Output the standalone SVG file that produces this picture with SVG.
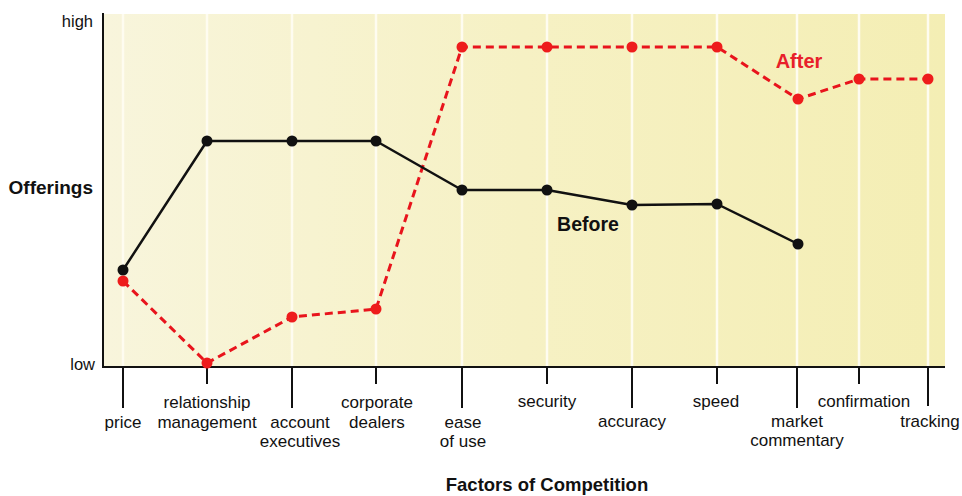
<svg xmlns="http://www.w3.org/2000/svg" width="962" height="496" viewBox="0 0 962 496">
<defs>
<linearGradient id="bg" x1="0" y1="0" x2="1" y2="0">
<stop offset="0" stop-color="#f8f5dc"/>
<stop offset="0.5" stop-color="#f6f1c4"/>
<stop offset="1" stop-color="#f4eeb4"/>
</linearGradient>
<style>
.lbl{font-family:"Liberation Sans",Arial,sans-serif;font-size:17px;fill:#111;text-anchor:middle}
.ax{font-family:"Liberation Sans",Arial,sans-serif;font-size:16.5px;fill:#111}
.bold{font-family:"Liberation Sans",Arial,sans-serif;font-weight:bold;fill:#111}
.grid{stroke:#fefcf0;stroke-width:2.5}
.tick{stroke:#111;stroke-width:2}
.before{fill:none;stroke:#111;stroke-width:2.5;stroke-linejoin:round}
.after{fill:none;stroke:#e8141c;stroke-width:3;stroke-dasharray:8 5}
.bd{fill:#111}
.rd{fill:#ee1c1c}
</style>
</defs>
<rect width="962" height="496" fill="#ffffff"/>
<g id="plot">
<rect x="103" y="14" width="842" height="353" fill="url(#bg)"/>
<g id="gridlines">
<line class="grid" x1="123" y1="14" x2="123" y2="366"/>
<line class="grid" x1="207" y1="14" x2="207" y2="366"/>
<line class="grid" x1="292" y1="14" x2="292" y2="366"/>
<line class="grid" x1="376" y1="14" x2="376" y2="366"/>
<line class="grid" x1="462" y1="14" x2="462" y2="366"/>
<line class="grid" x1="547" y1="14" x2="547" y2="366"/>
<line class="grid" x1="632" y1="14" x2="632" y2="366"/>
<line class="grid" x1="717" y1="14" x2="717" y2="366"/>
<line class="grid" x1="797" y1="14" x2="797" y2="366"/>
<line class="grid" x1="859" y1="14" x2="859" y2="366"/>
<line class="grid" x1="928" y1="14" x2="928" y2="366"/>
</g>
</g>
<g id="axes">
<line class="tick" x1="103" y1="13" x2="103" y2="368"/>
<line class="tick" x1="102" y1="367" x2="945" y2="367"/>
<line class="tick" x1="123" y1="367" x2="123" y2="408"/>
<line class="tick" x1="207" y1="367" x2="207" y2="384"/>
<line class="tick" x1="292" y1="367" x2="292" y2="408"/>
<line class="tick" x1="376" y1="367" x2="376" y2="384"/>
<line class="tick" x1="462" y1="367" x2="462" y2="408"/>
<line class="tick" x1="547" y1="367" x2="547" y2="384"/>
<line class="tick" x1="632" y1="367" x2="632" y2="408"/>
<line class="tick" x1="717" y1="367" x2="717" y2="384"/>
<line class="tick" x1="797" y1="367" x2="797" y2="408"/>
<line class="tick" x1="859" y1="367" x2="859" y2="384"/>
<line class="tick" x1="928" y1="367" x2="928" y2="406"/>
<text class="ax" x="93" y="27" text-anchor="end">high</text>
<text class="ax" x="95" y="370" text-anchor="end">low</text>
<text class="bold" x="93" y="194" font-size="19" text-anchor="end">Offerings</text>
<text class="bold" x="547" y="491" font-size="18.5" text-anchor="middle">Factors of Competition</text>
</g>
<g id="labels">
<text class="lbl" x="123" y="428">price</text>
<text class="lbl" x="207" y="408">relationship</text>
<text class="lbl" x="207" y="428">management</text>
<text class="lbl" x="300" y="428">account</text>
<text class="lbl" x="300" y="447">executives</text>
<text class="lbl" x="377" y="408">corporate</text>
<text class="lbl" x="377" y="428">dealers</text>
<text class="lbl" x="463" y="428">ease</text>
<text class="lbl" x="463" y="447">of use</text>
<text class="lbl" x="547" y="407">security</text>
<text class="lbl" x="632" y="427">accuracy</text>
<text class="lbl" x="716" y="407">speed</text>
<text class="lbl" x="797" y="427">market</text>
<text class="lbl" x="797" y="446">commentary</text>
<text class="lbl" x="864" y="407">confirmation</text>
<text class="lbl" x="930" y="427">tracking</text>
</g>
<g id="connectors">
<polyline id="after-line" class="after" points="123,281 207,363 292,317 376,309 462,47 547,47 632,47 717,47 798,99 859,79 928,79"/>
<polyline id="before-line" class="before" points="123,270 207,141 292,141 376,141 462,190 547,190 632,205 717,204 798,244"/>
</g>
<g id="before">
<circle class="bd" cx="123" cy="270" r="5.5"/>
<circle class="bd" cx="207" cy="141" r="5.5"/>
<circle class="bd" cx="292" cy="141" r="5.5"/>
<circle class="bd" cx="376" cy="141" r="5.5"/>
<circle class="bd" cx="462" cy="190" r="5.5"/>
<circle class="bd" cx="547" cy="190" r="5.5"/>
<circle class="bd" cx="632" cy="205" r="5.5"/>
<circle class="bd" cx="717" cy="204" r="5.5"/>
<circle class="bd" cx="798" cy="244" r="5.5"/>
<text class="bold" x="588" y="231" font-size="19.5" text-anchor="middle">Before</text>
</g>
<g id="after">
<circle class="rd" cx="123" cy="281" r="5.5"/>
<circle class="rd" cx="207" cy="363" r="5.5"/>
<circle class="rd" cx="292" cy="317" r="5.5"/>
<circle class="rd" cx="376" cy="309" r="5.5"/>
<circle class="rd" cx="462" cy="47" r="5.5"/>
<circle class="rd" cx="547" cy="47" r="5.5"/>
<circle class="rd" cx="632" cy="47" r="5.5"/>
<circle class="rd" cx="717" cy="47" r="5.5"/>
<circle class="rd" cx="798" cy="99" r="5.5"/>
<circle class="rd" cx="859" cy="79" r="5.5"/>
<circle class="rd" cx="928" cy="79" r="5.5"/>
<text class="bold" x="799" y="68" font-size="20" text-anchor="middle" style="fill:#e8202a">After</text>
</g>
</svg>
